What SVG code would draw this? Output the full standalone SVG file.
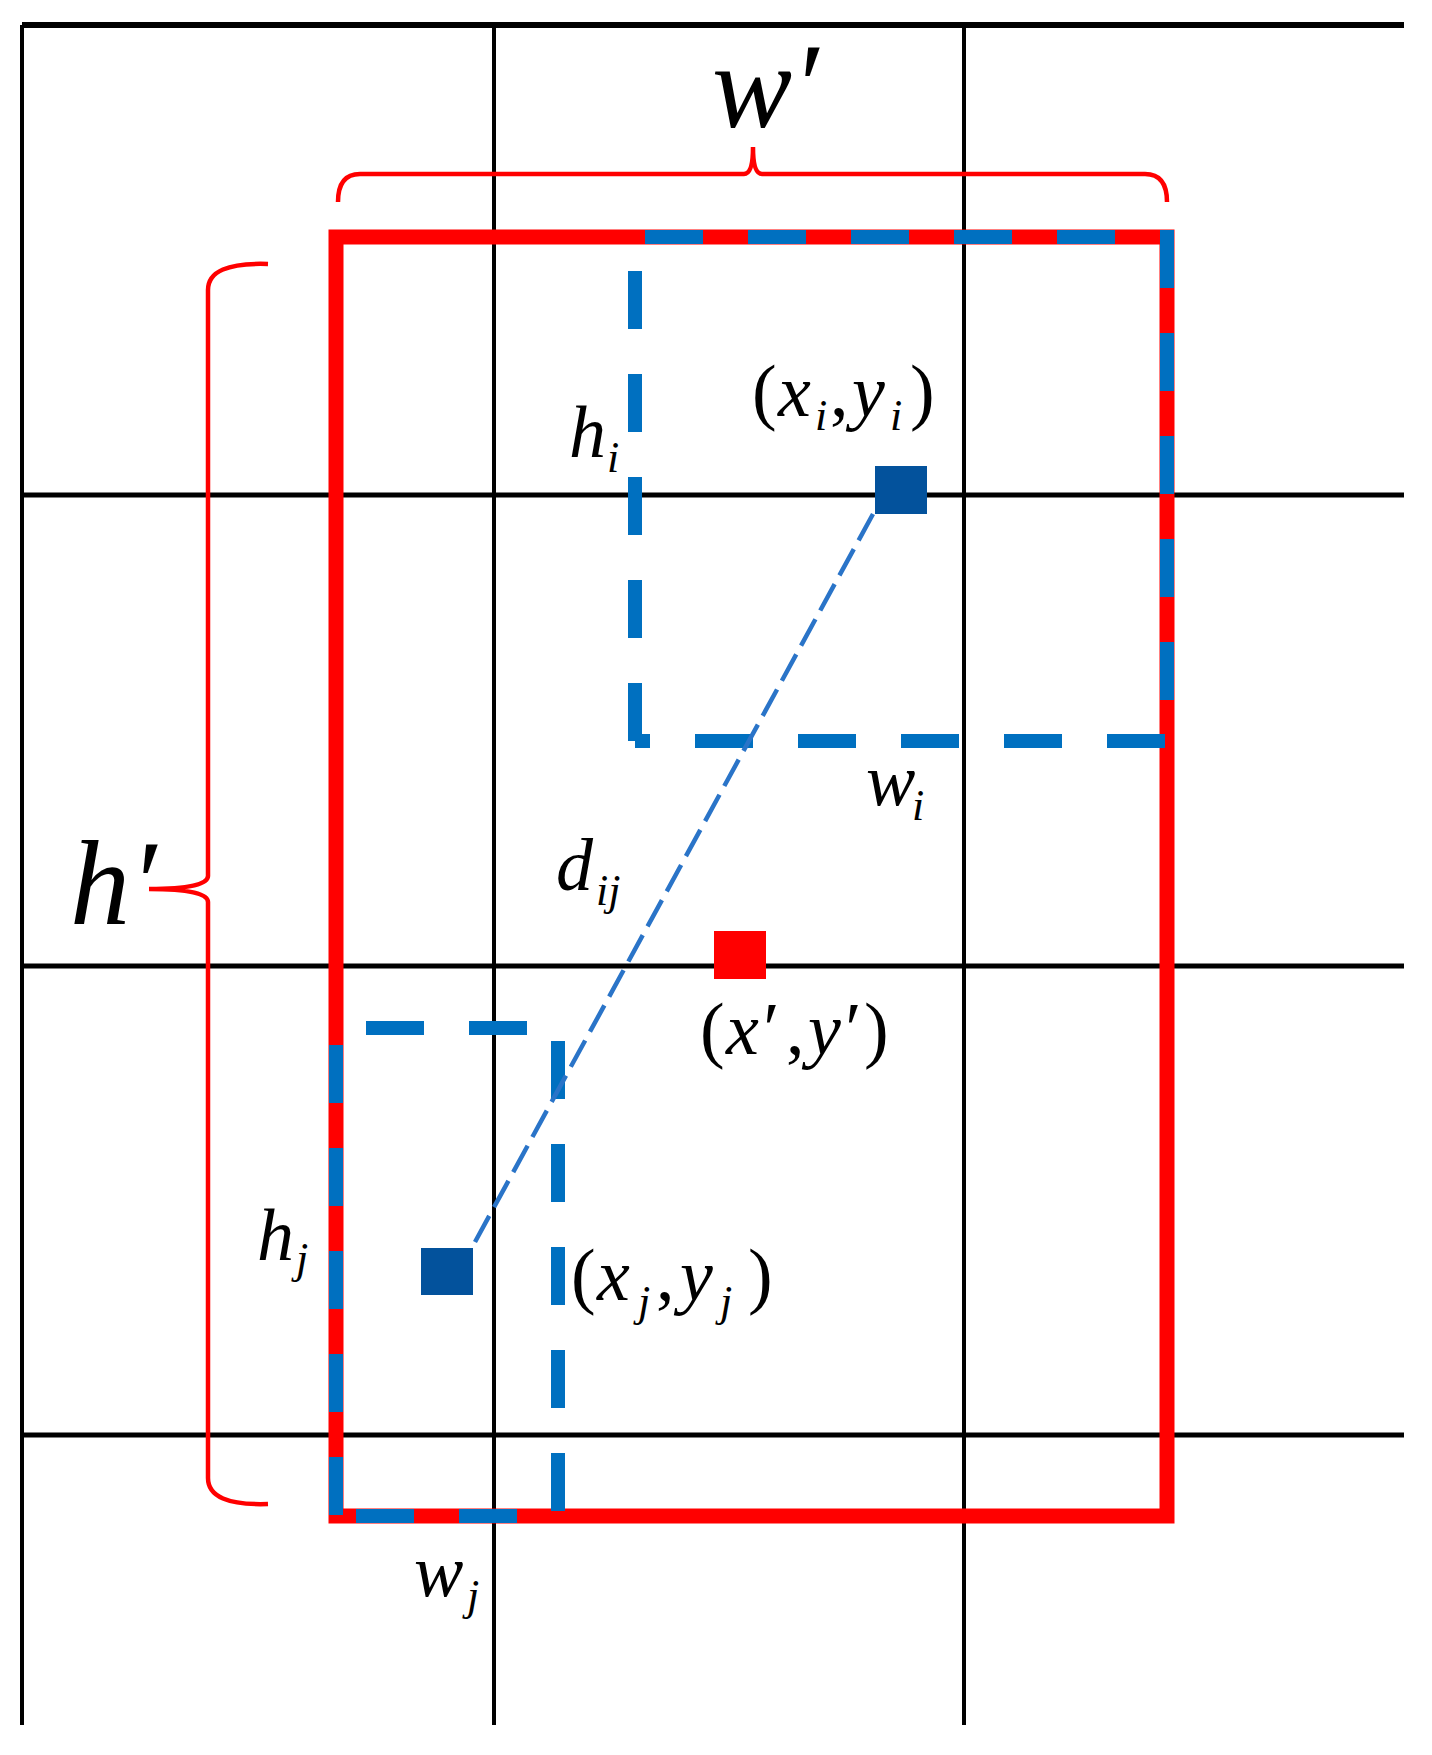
<svg xmlns="http://www.w3.org/2000/svg" width="1432" height="1755" viewBox="0 0 1432 1755">
<style>
.g{stroke:#000;stroke-width:5;fill:none}
.gv{stroke:#000;stroke-width:4;fill:none}
.red{stroke:#ff0000;stroke-width:15;fill:none}
.bd{stroke:#0070c0;stroke-width:14;fill:none;stroke-dasharray:58 45}
.br{stroke:#ff0000;stroke-width:4.5;fill:none}
.diag{stroke:#2a74c8;stroke-width:4.5;fill:none;stroke-dasharray:30 10}
.t{font-family:"Liberation Serif","Times New Roman",serif;font-style:italic;fill:#000}
.p{font-family:"Liberation Serif","Times New Roman",serif;font-style:normal;fill:#000}
</style>
<rect width="1432" height="1755" fill="#fff"/>
<g id="grid">
<line class="g" x1="22" y1="25" x2="1404" y2="25" style="stroke-width:6"/>
<line class="g" x1="22" y1="495" x2="1404" y2="495"/>
<line class="g" x1="22" y1="966" x2="1404" y2="966"/>
<line class="g" x1="22" y1="1435" x2="1404" y2="1435"/>
<line class="gv" x1="22" y1="25" x2="22" y2="1725"/>
<line class="gv" x1="494" y1="25" x2="494" y2="1725"/>
<line class="gv" x1="964" y1="25" x2="964" y2="1725"/>
</g>
<g id="union-box">
<rect class="red" x="336" y="237" width="831" height="1279"/>
</g>
<g id="box-i">
<line class="bd" x1="645" y1="237" x2="1167" y2="237"/>
<line class="bd" x1="1167" y1="230" x2="1167" y2="741"/>
<line class="bd" x1="1165" y1="741" x2="635" y2="741"/>
<line class="bd" x1="635" y1="271" x2="635" y2="741"/>
</g>
<g id="box-j">
<line class="bd" x1="366" y1="1028" x2="558" y2="1028"/>
<line class="bd" x1="558" y1="1041" x2="558" y2="1516"/>
<line class="bd" x1="356" y1="1516" x2="558" y2="1516"/>
<line class="bd" x1="336" y1="1045" x2="336" y2="1516"/>
</g>
<g id="connectors">
<line class="diag" x1="873" y1="514" x2="475" y2="1242"/>
</g>
<g id="braces">
<path class="br" d="M338 202 Q338 174 360 174 L744 174 Q753 174 753 147 Q753 174 762 174 L1145 174 Q1167 174 1167 202"/>
<path class="br" d="M268 264 Q208 262 208 290 L208 876 Q208 889 149 889 Q208 889 208 902 L208 1478 Q208 1506 268 1504"/>
</g>
<g id="point-i"><rect x="875" y="466" width="52" height="48" fill="#03529c"/></g>
<g id="point-center"><rect x="714" y="931" width="52" height="48" fill="#ff0000"/></g>
<g id="point-j"><rect x="421" y="1248" width="52" height="47" fill="#03529c"/></g>
<g id="labels">
<text class="t" x="712" y="127" font-size="120">w′</text>
<text class="t" x="70" y="924" font-size="120">h′</text>
<text class="t" x="569" y="457" font-size="74">h</text><text class="t" x="607" y="472" font-size="44">i</text>
<text class="p" x="752" y="416" font-size="74">(</text>
<text class="t" x="778" y="416" font-size="74">x</text>
<text class="t" x="815" y="430" font-size="44">i</text>
<text class="p" x="830" y="416" font-size="74">,</text>
<text class="t" x="852" y="416" font-size="74">y</text>
<text class="t" x="890" y="430" font-size="44">i</text>
<text class="p" x="910" y="416" font-size="74">)</text>
<text class="t" x="866" y="805" font-size="74">w</text><text class="t" x="912" y="820" font-size="44">i</text>
<text class="t" x="556" y="890" font-size="74">d</text><text class="t" x="596" y="905" font-size="44">ij</text>
<text class="p" x="700" y="1054" font-size="74">(</text>
<text class="t" x="726" y="1054" font-size="74">x′</text>
<text class="p" x="786" y="1054" font-size="74">,</text>
<text class="t" x="808" y="1054" font-size="74">y′</text>
<text class="p" x="864" y="1054" font-size="74">)</text>
<text class="t" x="257" y="1260" font-size="74">h</text><text class="t" x="296" y="1273" font-size="44">j</text>
<text class="p" x="571" y="1300" font-size="74">(</text>
<text class="t" x="597" y="1300" font-size="74">x</text>
<text class="t" x="638" y="1316" font-size="44">j</text>
<text class="p" x="656" y="1300" font-size="74">,</text>
<text class="t" x="680" y="1300" font-size="74">y</text>
<text class="t" x="720" y="1316" font-size="44">j</text>
<text class="p" x="748" y="1300" font-size="74">)</text>
<text class="t" x="414" y="1596" font-size="74">w</text><text class="t" x="467" y="1610" font-size="44">j</text>
</g>
</svg>
